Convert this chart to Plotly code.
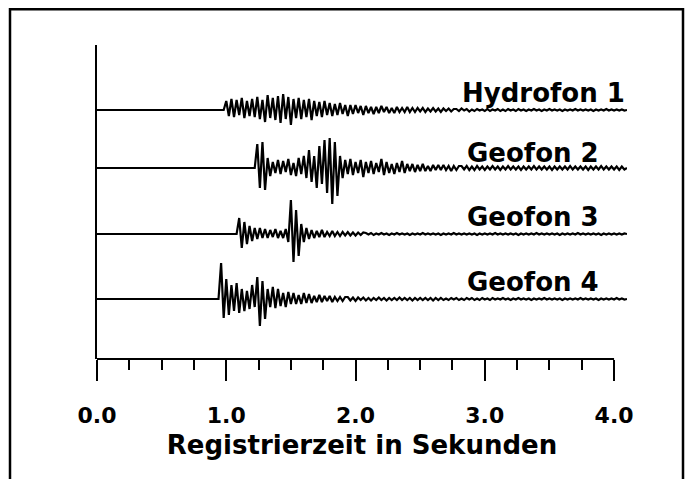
import plotly.graph_objects as go

# ---------------- data ----------------
trace_names = ["Hydrofon 1", "Geofon 2", "Geofon 3", "Geofon 4"]
baselines = [249, 191, 125, 60]          # vertical offsets (display units)
onsets = [0.98, 1.22, 1.08, 0.94]        # first sample time (s)
dt = 0.02                                # sample interval (s)

hydrofon1 = [
    0, 9, -6, 11, -7, 10, -5, 12, -8, 9,
    -6, 11, -7, 13, -9, 10, -12, 15, -8, 12,
    -10, 14, -13, 16, -9, 13, -15, 11, -8, 12,
    -9, 10, -7, 11, -10, 9, -6, 8, -7, 9,
    -5, 7, -6, 6, -5, 7, -4, 5, -6, 5,
    -4, 5, -3, 4, -5, 4, -3, 3, -4, 3,
    -3, 4, -2, 3, -3, 2, -3, 3, -2, 2,
    -2, 3, -2, 2, -2, 2, -1.5, 2, -2, 1.5,
    -1.5, 2, -1.5, 1.5, -2, 1.5, -1, 1.5, -1.5, 1,
    1, -1, 1.5, -0.5, 1, -1.5, 0.5, -1, 1, -0.5,
    0.5, -1, 1, -1, 0.5, -0.5, 1, -1, 0.5, -1,
    1, -0.5, 0.5, -1, 1, -0.5, 0.5, -1, 0.5, -0.5,
    1, -0.5, 0.5, -1, 0.5, -0.5, 1, -0.5, 0.5, -0.5,
    0.5, -1, 0.5, -0.5, 0.5, -0.5, 1, -0.5, 0.5, -0.5,
    0.5, -0.5, 0.5, -1, 0.5, -0.5, 0.5, -0.5, 1, -0.5,
    0.5, -0.5, 0.5, -0.5, 0.5, -0.5, 0,
]

geofon2 = [
    0, 24, -20, 26, -22, 10, -8, 6, -5, 8,
    -6, 7, -4, 9, -7, 5, -8, 10, -6, 12,
    -10, 18, -14, 12, -20, 22, -16, 28, -25, 30,
    -36, 26, -28, 12, -10, 8, -6, 9, -7, 6,
    -5, 8, -9, 6, -5, 7, -6, 5, -4, 9,
    -7, 6, -5, 4, -6, 5, -4, 7, -5, 4,
    -3, 4, -4, 3, -3, 4, -3, 2, -3, 3,
    -2, 3, -2, 3, -2, 2, -3, 2, -2, 2,
    2, -1.5, 2, -2, 1.5, -2, 2, -1.5, 1.5, -2,
    1.5, -1.5, 2, -1.5, 1.5, -2, 1.5, -1.5, 2, -1.5,
    1.5, -1.5, 1.5, -2, 1.5, -1.5, 1.5, -1.5, 2, -1.5,
    1.5, -1.5, 1.5, -1.5, 1.5, -2, 1.5, -1.5, 1.5, -1.5,
    1.5, -1.5, 2, -1.5, 1.5, -1.5, 1.5, -1.5, 1.5, -2,
    1.5, -1.5, 1.5, -1.5, 2, -1.5, 1.5, -1.5, 1.5, -1.5,
    1.5, -2, 1.5, -1.5, 0,
]

geofon3 = [
    0, 16, -14, 12, -10, 8, -7, 6, -5, 6,
    -4, 5, -4, 4, -3, 5, -4, 3, -4, 5,
    -8, 34, -28, 24, -22, 10, -8, 6, -5, 4,
    -4, 3, -3, 4, -3, 2, -2, 3, -2, 2,
    -2, 2, -1.5, 2, -1.5, 1.5, -1.5, 1.5, -1, 1.5,
    1, -0.5, 1, -1, 0.5, -0.5, 1, -0.5, 0.5, -1,
    0.5, -0.5, 1, -0.5, 0.5, -0.5, 0.5, -1, 0.5, -0.5,
    0.5, -0.5, 1, -0.5, 0.5, -0.5, 0.5, -0.5, 0.5, -1,
    0.5, -0.5, 0.5, -0.5, 1, -0.5, 0.5, -0.5, 0.5, -0.5,
    0.5, -0.5, 0.5, -1, 0.5, -0.5, 0.5, -0.5, 0.5, -0.5,
    1, -0.5, 0.5, -0.5, 0.5, -0.5, 0.5, -0.5, 0.5, -1,
    0.5, -0.5, 0.5, -0.5, 0.5, -0.5, 1, -0.5, 0.5, -0.5,
    0.5, -0.5, 0.5, -0.5, 0.5, -1, 0.5, -0.5, 0.5, -0.5,
    0.5, -0.5, 1, -0.5, 0.5, -0.5, 0.5, -0.5, 0.5, -0.5,
    0.5, -1, 0.5, -0.5, 0.5, -0.5, 0.5, -0.5, 0.5, -0.5,
    0.5, 0,
]

geofon4 = [
    0, 36, -19, 20, -16, 14, -12, 16, -14, 10,
    -12, 8, -10, 14, -8, 22, -27, 18, -20, 10,
    -8, 12, -9, 10, -7, 6, -8, 7, -5, 6,
    -5, 4, -5, 6, -4, 5, -4, 3, -3, 4,
    -3, 3, -2, 3, -3, 2, -2, 2, -2, 2,
    2, -1.5, 1.5, -2, 1.5, -1, 1.5, -1.5, 1, -1.5,
    1, -1, 1.5, -1, 1, -1.5, 1, -1, 1, -1,
    1.5, -1, 1, -1, 1, -1.5, 1, -1, 1, -1,
    1, -1, 1, -1.5, 1, -1, 1, -1, 0.5, -1,
    1, -0.5, 1, -1, 0.5, -1, 1, -0.5, 1, -1,
    0.5, -1, 1, -0.5, 0.5, -1, 1, -0.5, 0.5, -0.5,
    1, -0.5, 0.5, -1, 0.5, -0.5, 1, -0.5, 0.5, -0.5,
    0.5, -1, 0.5, -0.5, 0.5, -0.5, 1, -0.5, 0.5, -0.5,
    0.5, -0.5, 0.5, -1, 0.5, -0.5, 0.5, -0.5, 0.5, -0.5,
    1, -0.5, 0.5, -0.5, 0.5, -0.5, 0.5, -1, 0.5, -0.5,
    0.5, -0.5, 0.5, -0.5, 1, -0.5, 0.5, -0.5, 0,
]

series = [hydrofon1, geofon2, geofon3, geofon4]
tick_vals = [0, 1, 2, 3, 4]
tick_text = ["0.0", "1.0", "2.0", "3.0", "4.0"]
x_title = "Registrierzeit in Sekunden"

# label anchors (right edge time, vertical position in display units)
label_x = [4.10, 3.90, 3.90, 3.90]
label_y = [266, 206, 142, 77]

# ---------------- figure ----------------
FONT = "DejaVu Sans"
fig = go.Figure()
for name, vals, base, t0 in zip(trace_names, series, baselines, onsets):
    xs = [0.0] + [t0 + i * dt for i in range(len(vals))]
    ys = [base] + [base + v for v in vals]
    fig.add_trace(go.Scatter(x=xs, y=ys, mode="lines", name=name,
                             line=dict(color="black", width=2.2),
                             showlegend=False, hoverinfo="skip"))

for name, lx, ly in zip(trace_names, label_x, label_y):
    fig.add_annotation(x=lx, y=ly, xref="x", yref="y", text=name,
                       showarrow=False, xanchor="right", yanchor="middle",
                       font=dict(family=FONT, size=26, color="black", weight="bold"))

# x axis line (ends at 4.0)
fig.add_shape(type="line", xref="x", yref="paper", x0=0, x1=4.0, y0=0, y1=0,
              line=dict(color="black", width=2))
# outer frame
fig.add_shape(type="rect", xref="paper", yref="paper",
              x0=(2 - 89) / 530, x1=(675 - 89) / 530,
              y0=(351 - 490) / 314, y1=(351 - 1.2) / 314,
              line=dict(color="black", width=2.5))

fig.update_layout(
    width=694, height=479,
    margin=dict(l=89, r=75, t=37, b=128),
    paper_bgcolor="white", plot_bgcolor="white",
    xaxis=dict(range=[0, 4.1], showgrid=False, zeroline=False, showline=False,
               tickvals=tick_vals, ticktext=tick_text,
               ticks="outside", ticklen=21, tickwidth=2, tickcolor="black",
               minor=dict(dtick=0.25, ticks="outside", ticklen=10,
                          tickwidth=2, tickcolor="black", showgrid=False),
               tickfont=dict(family=FONT, size=22, color="black", weight="bold"),
               ticklabelstandoff=16,
               title=dict(text=x_title, standoff=8,
                          font=dict(family=FONT, size=26, color="black", weight="bold"))),
    yaxis=dict(range=[0, 314], showgrid=False, zeroline=False, showline=True,
               linecolor="black", linewidth=2, showticklabels=False, ticks=""),
)

fig.write_html("out.html")
